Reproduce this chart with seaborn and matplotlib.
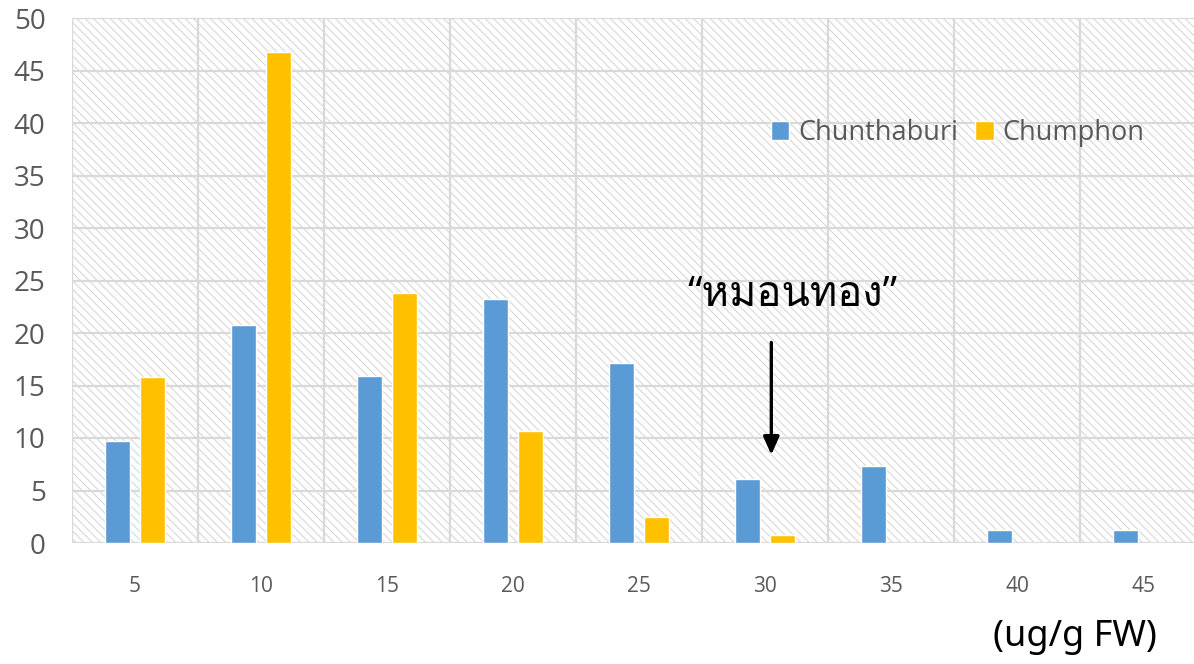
import numpy as np
import pandas as pd
import seaborn as sns
import matplotlib
matplotlib.use("Agg")
import matplotlib.pyplot as plt
from matplotlib import font_manager, ft2font
from matplotlib.patches import Rectangle

# Distribution of samples by concentration class (ug/g FW)
classes = ["5", "10", "15", "20", "25", "30", "35", "40", "45"]
chunthaburi = [9.7, 20.8, 15.9, 23.2, 17.1, 6.1, 7.3, 1.2, 1.2]
chumphon = [15.8, 46.8, 23.8, 10.7, 2.5, 0.8, 0.0, 0.0, 0.0]
series_names = ["Chunthaburi", "Chumphon"]
series_colors = ["#5B9BD5", "#FFC000"]
annotation_text = "\u201cหมอนทอง\u201d"
unit_text = "(ug/g FW)"

df = pd.DataFrame({
    "cls": classes * 2,
    "value": chunthaburi + chumphon,
    "site": [series_names[0]] * len(classes) + [series_names[1]] * len(classes),
})


def thai_family():
    for f in font_manager.fontManager.ttflist:
        try:
            face = ft2font.FT2Font(f.fname)
            if ord("ห") in face.get_charmap():
                return f.name
        except Exception:
            continue
    return "DejaVu Sans"


sns.set_theme(style="white")
plt.rcParams["font.family"] = ["Open Sans", "DejaVu Sans"]
plt.rcParams["hatch.linewidth"] = 0.75

grid_color = "#d9d9d9"
label_color = "#595959"

fig = plt.figure(figsize=(11.94, 6.64), dpi=100)
ax = fig.add_axes([72 / 1194, 121 / 664, 1134 / 1194, 525 / 664])

# hatched plot background
ax.add_patch(Rectangle((0, 0), 1, 1, transform=ax.transAxes, facecolor="white",
                       edgecolor="#d6d6d6", linewidth=0, hatch="\\" * 4, zorder=0.2))

sns.barplot(data=df, x="cls", y="value", hue="site", order=classes,
            hue_order=series_names, palette=dict(zip(series_names, series_colors)),
            width=0.556, gap=0.28, saturation=1, ax=ax, zorder=2)

ax.set_xlim(-0.5, len(classes) - 0.5)
ax.set_ylim(0, 50)
ax.set_yticks(np.arange(0, 51, 5))
ax.set_xticks(np.arange(-0.5, len(classes), 1), minor=True)
ax.set_axisbelow(True)
ax.grid(which="major", axis="y", color=grid_color, linewidth=1.6)
ax.grid(which="minor", axis="x", color=grid_color, linewidth=1.6)
ax.grid(which="major", axis="x", visible=False)
for s in ax.spines.values():
    s.set_visible(False)
ax.axhline(0, color=grid_color, linewidth=2.2, zorder=0.6)

ax.set_xlabel("")
ax.set_ylabel("")
ax.tick_params(axis="y", which="both", length=0, pad=19, labelsize=20, labelcolor=label_color)
ax.tick_params(axis="x", which="both", length=0, pad=24, labelsize=15, labelcolor=label_color)

handles, labels = ax.get_legend_handles_labels()
ax.legend(handles, labels, loc="center left", bbox_to_anchor=(771 / 1194, 1 - 133 / 664),
          bbox_transform=fig.transFigure, ncol=2, frameon=False, fontsize=19.5,
          handlelength=0.68, handleheight=0.68, handletextpad=0.33,
          columnspacing=0.62, borderpad=0, borderaxespad=0, labelcolor=label_color)

# cultivar annotation with arrow
ax.annotate("", xy=(5.05, 8.4), xytext=(5.05, 19.1),
            arrowprops=dict(arrowstyle="-|>,head_length=0.9,head_width=0.4",
                            color="black", lw=2.4, shrinkA=0, shrinkB=0))
ax.text(5.22, 23.6, annotation_text, ha="center", va="center", fontsize=30,
        fontweight="normal", color="black",
        family=["Open Sans", thai_family(), "DejaVu Sans"])

fig.text(1075 / 1194, 1 - 637 / 664, unit_text, ha="center", va="center",
         fontsize=26, color="black", family=["Noto Sans", "DejaVu Sans"])

fig.savefig("out.png", dpi=100)
